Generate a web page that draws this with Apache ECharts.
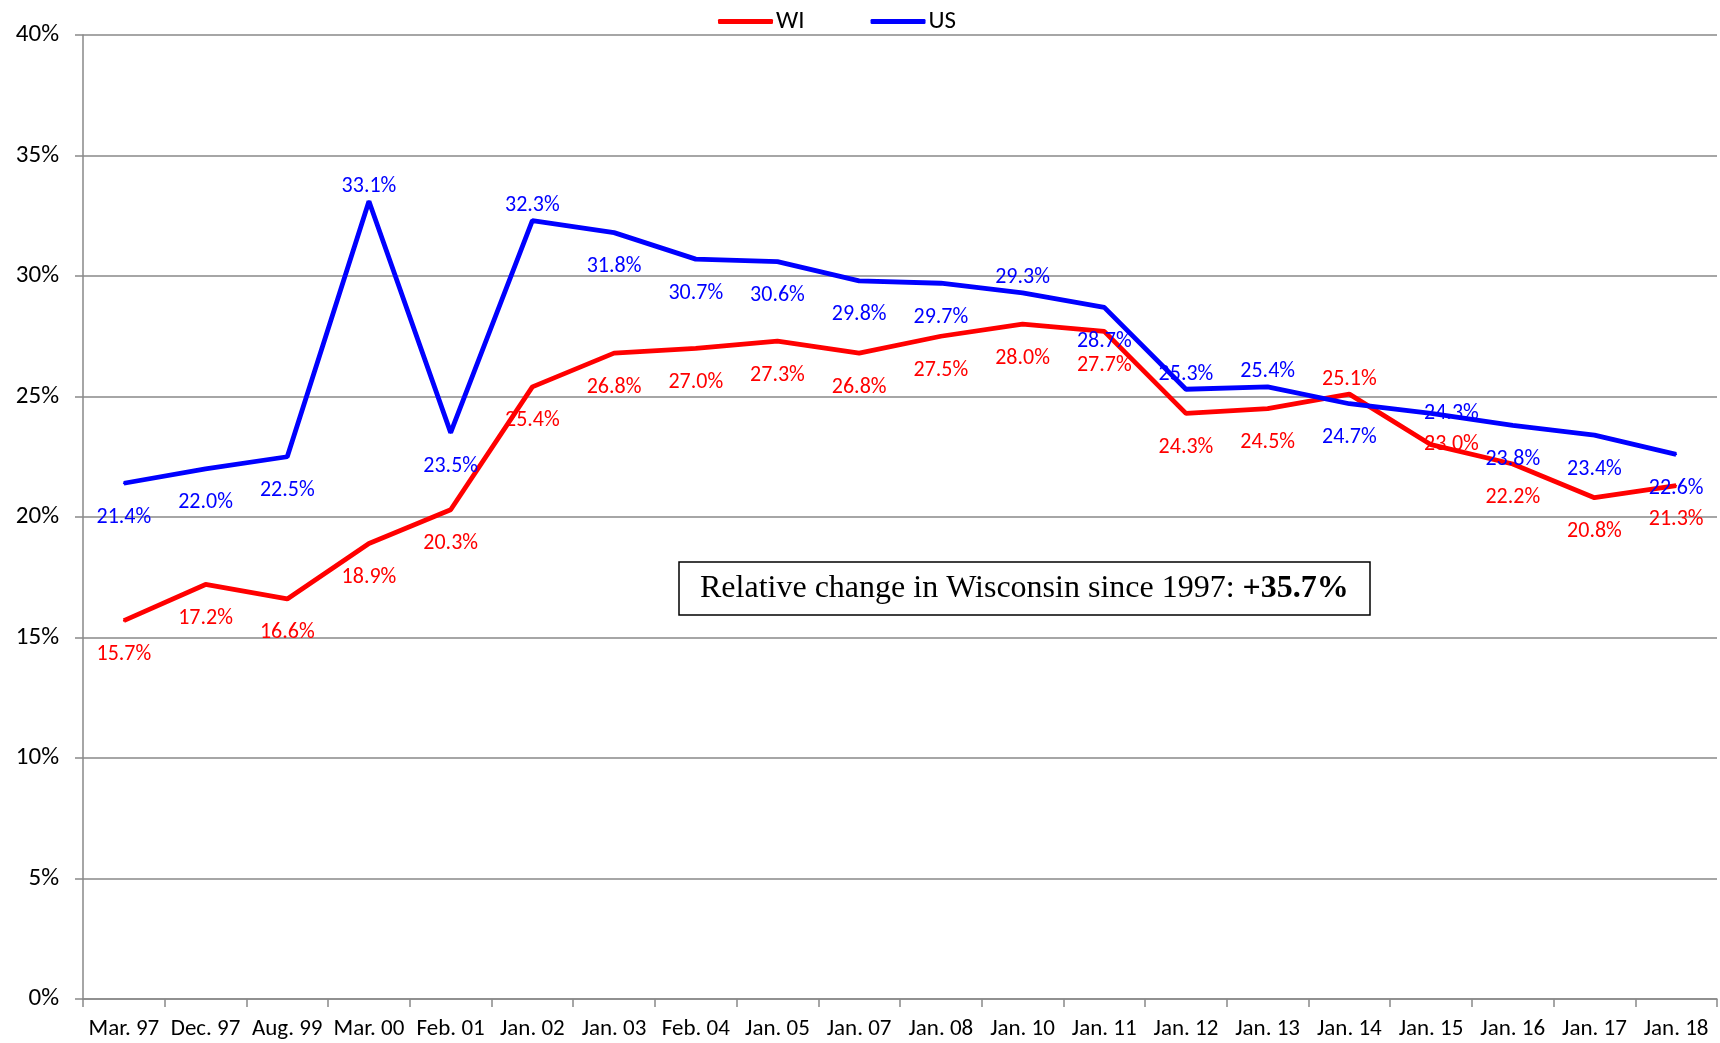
<!DOCTYPE html>
<html lang="en">
  <head>
    <meta charset="UTF-8" />
    <title>WI vs US</title>
    <script src="https://cdn.jsdelivr.net/npm/echarts@6.0.0/dist/echarts.min.js"></script>
    <style>
      html, body { margin: 0; padding: 0; background: #fff; }
    </style>
  </head>

  <body>
    <div id="main" style="width: 1720px; height: 1043px"></div>
    <script type="text/javascript">
      const categories = ["Mar. 97", "Dec. 97", "Aug. 99", "Mar. 00", "Feb. 01", "Jan. 02", "Jan. 03", "Feb. 04", "Jan. 05", "Jan. 07",
        "Jan. 08", "Jan. 10", "Jan. 11", "Jan. 12", "Jan. 13", "Jan. 14", "Jan. 15", "Jan. 16", "Jan. 17", "Jan. 18"];
      const wiValues = [15.7, 17.2, 16.6, 18.9, 20.3, 25.4, 26.8, 27.0, 27.3, 26.8, 27.5, 28.0, 27.7, 24.3, 24.5, 25.1, 23.0, 22.2, 20.8, 21.3];
      const usValues = [21.4, 22.0, 22.5, 33.1, 23.5, 32.3, 31.8, 30.7, 30.6, 29.8, 29.7, 29.3, 28.7, 25.3, 25.4, 24.7, 24.3, 23.8, 23.4, 22.6];
      const yTicks = [0, 5, 10, 15, 20, 25, 30, 35, 40];

      // which labels sit above the line / beside the point
      const wiAbove = [15];
      const usAbove = [3, 5, 11, 13, 14];
      const beside = [16];

      const labelFont = "Carlito, 'Open Sans', sans-serif";

      function buildData(values, above, lift) {
        return values.map((v, i) => {
          let label;
          if (beside.includes(i)) {
            label = { position: "right", distance: -8, offset: [0, lift] };
          } else if (above.includes(i)) {
            label = { position: "top", distance: 3 };
          } else {
            label = { position: "bottom", distance: 22 };
          }
          return { value: v, label: label };
        });
      }

      function seriesFor(name, values, above, color, lift) {
        return {
          name: name,
          type: "line",
          data: buildData(values, above, lift),
          symbol: "circle",
          symbolSize: 2,
          showSymbol: true,
          lineStyle: { color: color, width: 4.8 },
          itemStyle: { color: color },
          label: {
            show: true,
            color: color,
            fontSize: 22,
            fontFamily: labelFont,
            formatter: (p) => p.value.toFixed(1) + "%",
          },
          labelLayout: { hideOverlap: false },
          z: name === "US" ? 3 : 2,
        };
      }

      let options = {
        animation: false,
        backgroundColor: "#fff",
        title: {
          text: "{a|Relative change in Wisconsin since 1997: }{b|+35.7%}",
          left: 679,
          top: 560,
          padding: [11, 21, 11, 21],
          borderColor: "#000",
          borderWidth: 1.5,
          textStyle: {
            fontWeight: "normal",
            rich: {
              a: { fontFamily: "Liberation Serif", fontSize: 32, fontWeight: "normal", color: "#000", lineHeight: 35 },
              b: { fontFamily: "Liberation Serif", fontSize: 32, fontWeight: "bold", color: "#000", lineHeight: 35 },
            },
          },
        },
        legend: {
          data: ["WI", "US"],
          top: 4,
          left: 713,
          icon: "roundRect",
          itemWidth: 55,
          itemHeight: 5,
          itemGap: 66,
          textStyle: { fontSize: 25, fontFamily: labelFont, color: "#000", padding: [0, 0, 0, -2] },
        },
        grid: { left: 83, right: 3, top: 35, bottom: 44, containLabel: false },
        xAxis: {
          type: "category",
          data: categories,
          boundaryGap: true,
          axisLine: { lineStyle: { color: "#898989", width: 1.5 } },
          axisTick: { show: true, length: 8, interval: 0, lineStyle: { color: "#898989", width: 1.5 } },
          axisLabel: { interval: 0, color: "#000", fontSize: 23, fontFamily: labelFont, margin: 19 },
        },
        yAxis: {
          type: "value",
          min: yTicks[0],
          max: yTicks[yTicks.length - 1],
          interval: 5,
          axisLine: { show: true, lineStyle: { color: "#898989", width: 1.5 } },
          axisTick: { show: true, length: 8, lineStyle: { color: "#898989", width: 1.5 } },
          splitLine: { lineStyle: { color: "#898989", width: 1.5 } },
          axisLabel: { color: "#000", fontSize: 25, fontFamily: labelFont, margin: 24, formatter: "{value}%" },
        },
        series: [
          seriesFor("WI", wiValues, wiAbove, "#ff0000", 0),
          seriesFor("US", usValues, usAbove, "#0000ff", -6),
        ],
      };

      let myChart = echarts.init(document.getElementById("main"));
      myChart.setOption(options);
    </script>
  </body>
</html>
